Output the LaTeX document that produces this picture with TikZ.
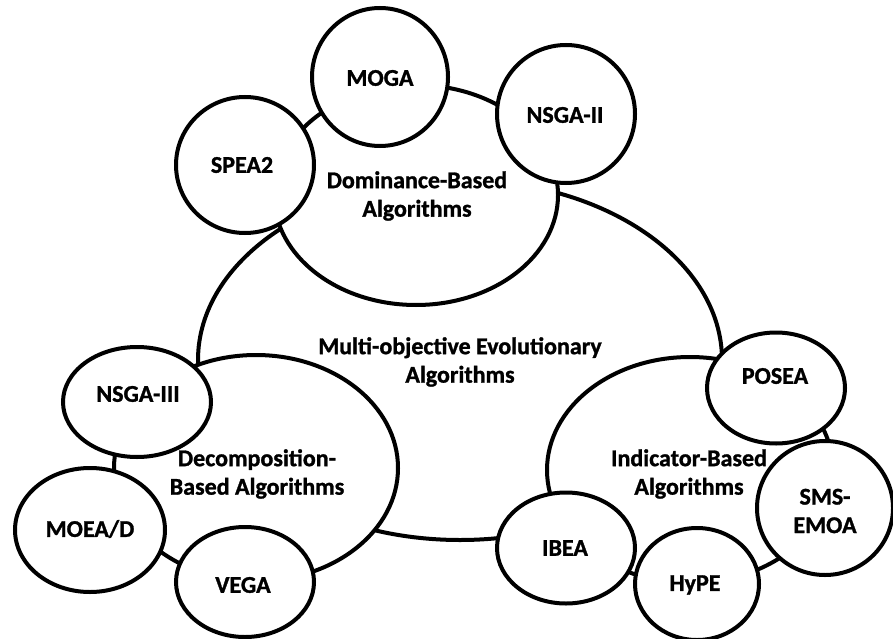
\documentclass[tikz,border=0pt]{standalone}
\usepackage{fontspec}
\setmainfont{Carlito}[BoldFeatures={FakeBold=1.2}]
\usetikzlibrary{shapes.geometric}
\begin{document}
\begin{tikzpicture}[x=1pt,y=-1pt,
  bubble/.style={draw=black, line width=4pt, fill=white, ellipse, inner sep=0pt},
  txt/.style={font=\bfseries\fontsize{24}{28.5}\selectfont, align=center, inner sep=0pt}]
\useasboundingbox (0,0) rectangle (893,639);

% main family
\node[bubble, minimum width=524, minimum height=360] (moea) at (460,360) {};
% the three groups
\node[bubble, minimum width=284, minimum height=220] (dom) at (416,195) {};
\node[bubble, minimum width=284, minimum height=226] (dec) at (256,468) {};
\node[bubble, minimum width=286, minimum height=226] (ind) at (690,470) {};

% algorithms
\node[bubble, minimum width=136, minimum height=138] (moga)  at (380,77) {};
\node[bubble, minimum width=138, minimum height=138] (nsga2) at (566,114) {};
\node[bubble, minimum width=138, minimum height=136] (spea2) at (245,165) {};
\node[bubble, minimum width=148, minimum height=110] (nsga3) at (137,402) {};
\node[bubble, minimum width=150, minimum height=124] (moead) at (90,530) {};
\node[bubble, minimum width=138, minimum height=110] (vega)  at (245,582) {};
\node[bubble, minimum width=138, minimum height=111] (posea) at (776,388) {};
\node[bubble, minimum width=136, minimum height=134] (sms)   at (825,508) {};
\node[bubble, minimum width=138, minimum height=111] (ibea)  at (566,548) {};
\node[bubble, minimum width=124, minimum height=112] (hype)  at (697,584) {};

% labels
\node[txt] (tmoea) at (460,362) {Multi-objective Evolutionary\\Algorithms};
\node[txt] (tdom)  at (417,196) {Dominance-Based\\Algorithms};
\node[txt] (tdec)  at (257,474) {Decomposition-\\Based Algorithms};
\node[txt] (tind)  at (689,474) {Indicator-Based\\Algorithms};

\node[txt] (tmoga)  at (380,78)  {MOGA};
\node[txt] (tnsga2) at (565,115) {NSGA-II};
\node[txt] (tspea2) at (242,165) {SPEA2};
\node[txt] (tnsga3) at (138,394) {NSGA-III};
\node[txt] (tmoead) at (90,529)  {MOEA/D};
\node[txt] (tvega)  at (243,585) {VEGA};
\node[txt] (tposea) at (775,376) {POSEA};
\node[txt] (tsms)   at (825,511) {SMS-\\EMOA};
\node[txt] (tibea)  at (565,548) {IBEA};
\node[txt] (thype)  at (695,585) {HyPE};
\end{tikzpicture}
\end{document}
